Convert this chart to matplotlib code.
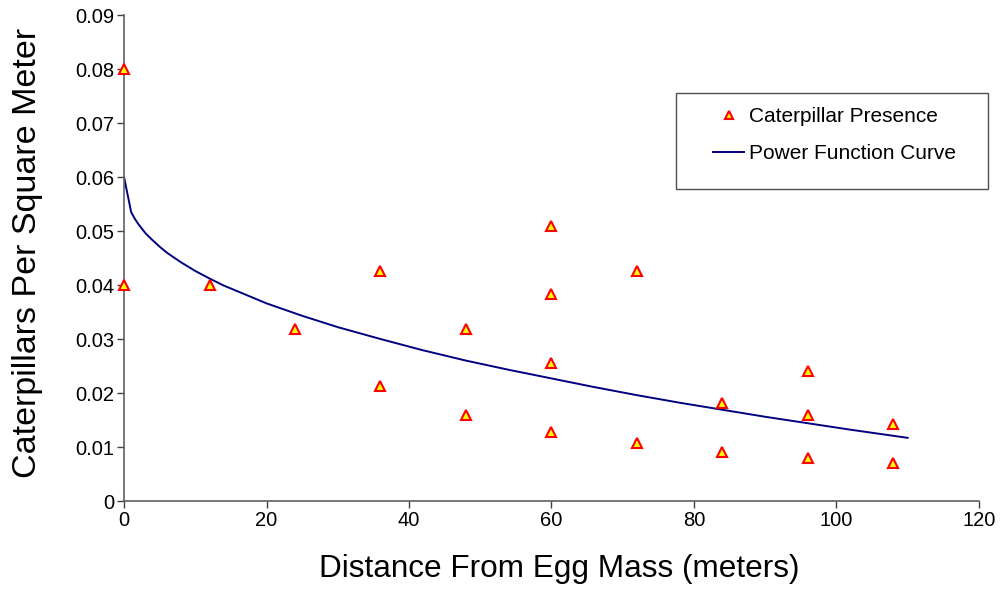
import matplotlib
matplotlib.use("Agg")
import matplotlib.pyplot as plt
from matplotlib.patches import Rectangle

plt.rcParams['font.family'] = ['Liberation Sans', 'DejaVu Sans']

# Observed caterpillar presence
obs_x = [0, 0, 12, 24, 36, 36, 48, 48, 60, 60, 60, 60, 72, 72, 84, 84, 96, 96, 96, 108, 108]
obs_y = [0.080, 0.040, 0.040, 0.0318, 0.0426, 0.0213, 0.0318, 0.0160, 0.0510, 0.0383,
         0.0255, 0.0128, 0.0426, 0.0107, 0.0181, 0.0091, 0.0240, 0.0160, 0.0080, 0.0142, 0.0071]

# Power function curve
curve_x = [0, 1, 1.5, 2, 3, 4, 5, 6, 8, 10, 12, 14, 16, 20, 25, 30, 36, 42, 48, 54, 60,
           66, 72, 78, 84, 90, 96, 102, 110]
curve_y = [0.0600, 0.0535, 0.0523, 0.0513, 0.0496, 0.0483, 0.0471, 0.0460, 0.0442, 0.0426,
           0.0412, 0.0399, 0.0388, 0.0366, 0.0343, 0.0322, 0.0300, 0.0279, 0.0260, 0.0243,
           0.0227, 0.0211, 0.0196, 0.0182, 0.0169, 0.0156, 0.0144, 0.0132, 0.0117]

x_ticks = [0, 20, 40, 60, 80, 100, 120]
y_ticks = [0, 0.01, 0.02, 0.03, 0.04, 0.05, 0.06, 0.07, 0.08, 0.09]

fig = plt.figure(figsize=(10.06, 5.89), dpi=100)
ax = fig.add_axes([0.1233, 0.1494, 0.8497, 0.8251])

ax.plot(curve_x, curve_y, color='#000080', lw=1.4, label='Power Function Curve', zorder=2)
ax.plot(obs_x, obs_y, linestyle='none', marker='^', markersize=7, markerfacecolor='#FFFF00',
        markeredgecolor='#FF0000', markeredgewidth=1.5, label='Caterpillar Presence',
        zorder=3, clip_on=False)

ax.set_xlim(0, 120)
ax.set_ylim(0, 0.09)
ax.set_xticks(x_ticks)
ax.set_yticks(y_ticks)
ax.set_xticklabels([str(t) for t in x_ticks])
ax.set_yticklabels(['0'] + ['%.2f' % t for t in y_ticks[1:]])

for s in ['top', 'right']:
    ax.spines[s].set_visible(False)
for s in ['left', 'bottom']:
    ax.spines[s].set_color('#606060')
    ax.spines[s].set_linewidth(1.2)
ax.tick_params(direction='out', length=5, width=1, color='#404040', labelsize=14.5, pad=2)

ax.set_xlabel('Distance From Egg Mass (meters)', fontsize=22.7)
ax.xaxis.set_label_coords(0.509, -0.11)
ax.set_ylabel('Caterpillars Per Square Meter', fontsize=24.5)
ax.yaxis.set_label_coords(-0.095, 0.51)

# legend box
fig.patches.append(Rectangle((676 / 1006, 1 - 189 / 589), 312 / 1006, 96 / 589,
                             transform=fig.transFigure, facecolor='white',
                             edgecolor='#505050', lw=1.0, zorder=5))
handles, labels = ax.get_legend_handles_labels()
leg = fig.legend(handles[::-1], labels[::-1], loc='upper left',
                 bbox_to_anchor=(713 / 1006, 1 - 107.5 / 589), fontsize=15, frameon=False,
                 borderpad=0, handlelength=1.5, handletextpad=0.25, labelspacing=0.85,
                 borderaxespad=0, markerscale=0.75)
leg.set_zorder(6)

fig.savefig('out.png', dpi=100)
